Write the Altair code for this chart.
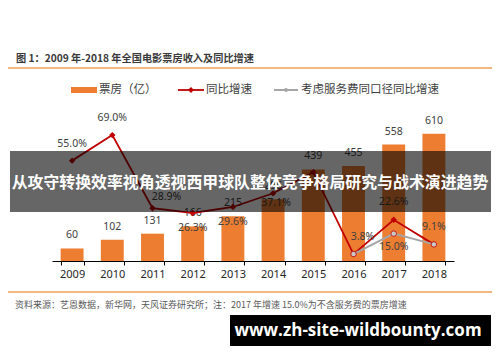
import altair as alt
import pandas as pd

years = ["2009", "2010", "2011", "2012", "2013", "2014", "2015", "2016", "2017", "2018"]
box_office = [60, 102, 131, 166, 215, 296, 439, 455, 558, 610]
growth = [0.55, 0.69, 0.289, 0.263, 0.296, 0.371, 0.487, 0.038, 0.226, 0.091]
adj_years = ["2016", "2017", "2018"]
adj_growth = [0.038, 0.150, 0.091]

left_ticks = [0, 100, 200, 300, 400, 500, 600, 700]
right_ticks = [0, 0.2, 0.4, 0.6, 0.8]

title_text = "图 1：2009 年-2018 年全国电影票房收入及同比增速"
legend_labels = ["票房（亿）", "同比增速", "考虑服务费同口径同比增速"]
banner_text = "从攻守转换效率视角透视西甲球队整体竞争格局研究与战术演进趋势"
footer_text = "资料来源：艺恩数据，新华网，天风证券研究所；注：2017 年增速 15.0%为不含服务费的票房增速"
watermark_text = "www.zh-site-wildbounty.com"

df = pd.DataFrame({"年份": years, "票房": box_office, "增速": growth})
adj = pd.DataFrame({"年份": adj_years, "增速": adj_growth})
one = pd.DataFrame({"a": [0]})

ORANGE = "#ED7D31"
RED = "#C00000"
GREY = "#A5A5A5"
TXT = "#404040"
NUM_FONT = "Noto Sans"
CJK = "Noto Sans CJK SC"

xenc = alt.X("年份:O", sort=years, title=None,
             scale=alt.Scale(paddingInner=0.43, paddingOuter=0.215),
             axis=alt.Axis(labelAngle=0, domainColor="black", tickColor="black",
                           tickSize=4, tickBand="extent", labelFontSize=11,
                           labelFont=NUM_FONT, labelColor="#262626", labelPadding=3))

yleft = alt.Y("票房:Q", title=None,
              scale=alt.Scale(domain=[0, 700], nice=False),
              axis=alt.Axis(values=left_ticks, grid=False, domainColor="black",
                            tickColor="black", tickSize=4, labelFontSize=10.5,
                            labelFont=NUM_FONT, labelColor="#262626", labelPadding=3))

bars = alt.Chart(df).mark_bar(color=ORANGE).encode(x=xenc, y=yleft)
bar_labels = alt.Chart(df).mark_text(dy=-13, fontSize=10.5, font=NUM_FONT, color=TXT).encode(
    x=alt.X("年份:O", sort=years), y=alt.Y("票房:Q", axis=None), text="票房:Q")
left = alt.layer(bars, bar_labels)

yright = alt.Y("增速:Q", title=None,
               scale=alt.Scale(domain=[0, 0.8], nice=False),
               axis=alt.Axis(orient="right", values=right_ticks, format=".0%", grid=False,
                             domainColor="black", tickColor="black", tickSize=4,
                             labelFontSize=10.5, labelFont=NUM_FONT, labelColor="#262626",
                             labelPadding=3))
yr = alt.Y("增速:Q", axis=None)
xo = alt.X("年份:O", sort=years)

red_line = alt.Chart(df).mark_line(color=RED, strokeWidth=1.8).encode(x=xo, y=yright)
red_pts = alt.Chart(df).mark_point(shape="diamond", filled=True, color=RED, size=40, opacity=1).encode(x=xo, y=yr)
grey_line = alt.Chart(adj).mark_line(color=GREY, strokeWidth=2).encode(x=xo, y=yr)
grey_pts = alt.Chart(adj).mark_point(shape="circle", filled=True, fill="#C8C8C8", stroke=RED,
                                     strokeWidth=0.8, size=30, opacity=1).encode(x=xo, y=yr)


def pct_labels(data, subset, dx, dy):
    return alt.Chart(data).mark_text(dx=dx, dy=dy, fontSize=10.5, font=NUM_FONT, color=TXT).encode(
        x=xo, y=yr, text=alt.Text("增速:Q", format=".1%")
    ).transform_filter(alt.FieldOneOfPredicate(field="年份", oneOf=subset))


right = alt.layer(
    red_line, grey_line, red_pts, grey_pts,
    pct_labels(df, ["2009", "2010", "2018"], 0, -17),
    pct_labels(df, ["2016"], 9, -17),
    pct_labels(df, ["2017"], 0, -18),
    pct_labels(df, ["2011"], 14, -11),
    pct_labels(df, ["2012", "2013"], 0, 15),
    pct_labels(df, ["2014"], 3, 10),
    pct_labels(adj, ["2017"], 0, 13),
)

main = alt.layer(left, right).resolve_scale(y="independent")


def rect(x1, x2, y1, y2, color, opacity=1.0):
    return alt.Chart(one).mark_rect(color=color, opacity=opacity).encode(
        x=alt.value(x1), x2=alt.value(x2), y=alt.value(y1), y2=alt.value(y2))


def hline(x1, x2, y, color, width):
    return alt.Chart(one).mark_rule(color=color, strokeWidth=width).encode(
        x=alt.value(x1), x2=alt.value(x2), y=alt.value(y))


def text(s, x, y, size, color, font=CJK, weight="normal", align="left"):
    return alt.Chart(one).mark_text(text=s, fontSize=size, color=color, font=font,
                                    fontWeight=weight, align=align, baseline="middle").encode(
        x=alt.value(x), y=alt.value(y))


def pt(x, y, shape, color, size):
    return alt.Chart(one).mark_point(shape=shape, filled=True, color=color, size=size, opacity=1).encode(
        x=alt.value(x), y=alt.value(y))


decor = alt.layer(
    text(title_text, -36, -56, 10.2, "#3a3a3a", weight="bold"),
    hline(-44, 441, -47, "#EFA054", 1.5),
    rect(19, 45, -28, -22, ORANGE),
    text(legend_labels[0], 47, -25, 11.5, TXT),
    hline(126, 152, -25, RED, 1.8),
    pt(139, -25, "diamond", RED, 35),
    text(legend_labels[1], 154, -25, 11.5, TXT),
    hline(222, 246, -25, GREY, 2),
    pt(234, -25, "circle", GREY, 15),
    text(legend_labels[2], 249, -25, 11.5, TXT),
    rect(-42, 439, 36, 97, "black", 0.6),
    text(banner_text, 198, 68, 15.9, "white", weight="bold", align="center"),
    hline(-44, 441, 177, "#EFA054", 1.5),
    text(footer_text, -37, 190, 9, "#595959"),
    rect(178, 439, 200, 231, "black"),
    text(watermark_text, 306, 216, 17, "white", font="Open Sans", weight="bold", align="center"),
)

chart = alt.layer(main, decor).properties(
    width=402, height=146,
    autosize=alt.AutoSizeParams(type="none"),
    padding={"left": 44, "top": 107, "right": 38, "bottom": 93},
    background="white",
).configure_view(stroke=None)

chart.save("out.html", embed_options={"renderer": "svg", "actions": False})
